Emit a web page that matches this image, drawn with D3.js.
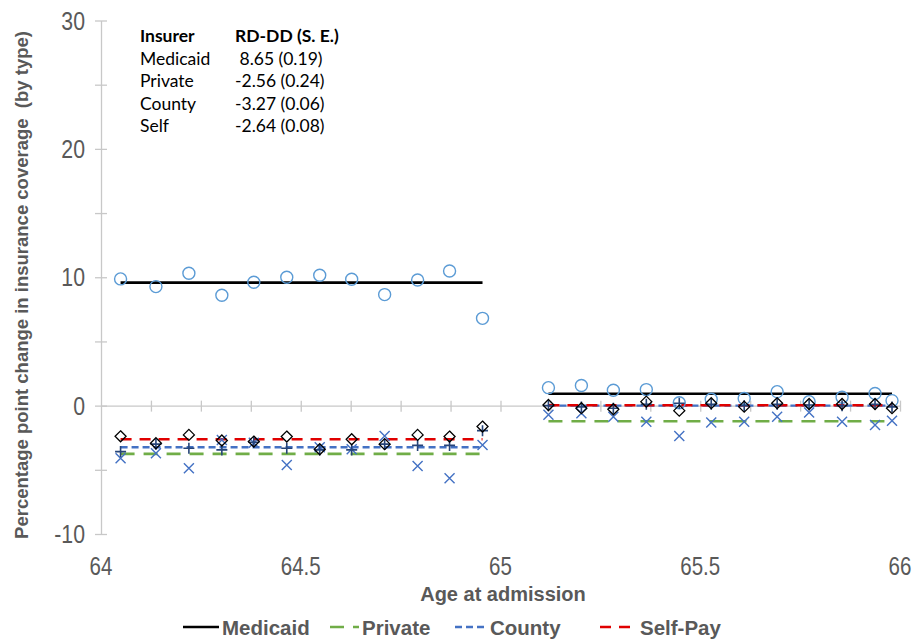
<!DOCTYPE html>
<html>
<head>
<meta charset="utf-8">
<script src="https://cdnjs.cloudflare.com/ajax/libs/d3/7.8.5/d3.min.js"></script>
<style>
  body { margin: 0; background: #fff; }
  .tick-label { font-family: "Liberation Sans", Arial, sans-serif; font-size: 25px; fill: #595959; }
  .axis-title { font-family: "Liberation Sans", Arial, sans-serif; font-weight: bold; fill: #595959; }
  .tbl { font-family: Lato, "Open Sans", sans-serif; font-size: 17.5px; fill: #000; }
</style>
</head>
<body>
<svg id="chart" width="913" height="641"></svg>
<script>
// data
var ageLeft  = [64.049, 64.1375, 64.22, 64.3025, 64.3825, 64.465, 64.5475, 64.6275, 64.71, 64.7925, 64.8725, 64.955];
var ageRight = [65.12, 65.2025, 65.2825, 65.365, 65.4475, 65.5275, 65.61, 65.6925, 65.7725, 65.855, 65.9375, 65.98];

var medicaidLeft  = [9.87, 9.27, 10.31, 8.6, 9.61, 10.0, 10.16, 9.84, 8.65, 9.79, 10.49, 6.8];
var medicaidRight = [1.4, 1.57, 1.2, 1.25, 0.22, 0.5, 0.55, 1.09, 0.31, 0.65, 0.94, 0.39];
var privateLeft   = [-4.1, -3.71, -4.88, -2.67, -2.9, -4.62, -3.24, -3.4, -2.36, -4.7, -5.65, -3.06];
var privateRight  = [-0.72, -0.6, -0.86, -1.25, -2.36, -1.32, -1.25, -0.86, -0.54, -1.25, -1.5, -1.17];
var countyLeft    = [-3.58, -3.0, -3.32, -3.45, -2.85, -3.32, -3.45, -3.45, -3.0, -3.1, -3.1, -1.95];
var countyRight   = [0.0, -0.1, -0.2, 0.1, 0.19, 0.1, 0.0, 0.1, 0.05, 0.0, 0.1, -0.1];
var selfLeft      = [-2.39, -2.93, -2.28, -2.72, -2.8, -2.41, -3.4, -2.62, -3.0, -2.28, -2.41, -1.63];
var selfRight     = [0.05, -0.2, -0.28, 0.31, -0.39, 0.19, -0.08, 0.19, 0.13, 0.13, 0.13, -0.2];

// fitted levels on each side of 65
var fitNames = ["Medicaid", "Private", "County", "Self-Pay"];
var fitLeft  = [9.58, -3.76, -3.24, -2.62];
var fitRight = [0.93, -1.22, 0.0, 0.03];

var tableHead = ["Insurer", "RD-DD (S. E.)"];
var tableNames = ["Medicaid", "Private", "County", "Self"];
var tableValues = [" 8.65 (0.19)", "-2.56 (0.24)", "-3.27 (0.06)", "-2.64 (0.08)"];

var xTicks = [64, 64.5, 65, 65.5, 66];
var yTicks = [-10, 0, 10, 20, 30];

// scales
var x = d3.scaleLinear().domain([64, 66]).range([101, 900]);
var y = d3.scaleLinear().domain([-10, 30]).range([534, 20.5]);

var svg = d3.select("#chart");
var axisColor = "#c8c8c8";

// y axis
var yAxis = svg.append("g").attr("transform", "translate(" + x(64) + ",0)")
    .call(d3.axisLeft(y).tickValues(d3.range(-10, 31, 5)).tickSize(0).tickFormat(""));
yAxis.select(".domain").attr("stroke", axisColor).attr("stroke-width", 1.3);
yAxis.selectAll(".tick line").remove();
yAxis.selectAll(".tick").append("line")
    .attr("x1", -6).attr("x2", 6)
    .attr("stroke", axisColor).attr("stroke-width", 1.3);

// x axis sits on y = 0
var xAxis = svg.append("g").attr("transform", "translate(0," + y(0) + ")")
    .call(d3.axisBottom(x).tickValues(d3.range(64, 66.01, 0.125)).tickSize(0).tickFormat(""));
xAxis.select(".domain").attr("stroke", axisColor).attr("stroke-width", 1.3);
xAxis.selectAll(".tick line").remove();
xAxis.selectAll(".tick").filter(function (d) { return d > 64; }).append("line")
    .attr("y1", -5).attr("y2", 6)
    .attr("stroke", axisColor).attr("stroke-width", 1.3);

// tick labels (narrow look)
svg.selectAll(".ylab").data(yTicks).enter().append("text")
    .attr("class", "tick-label")
    .attr("transform", function (d) { return "translate(" + (x(64) - 16) + "," + (y(d) + 9) + ") scale(0.85,1)"; })
    .attr("text-anchor", "end")
    .text(function (d) { return d; });

svg.selectAll(".xlab").data(xTicks).enter().append("text")
    .attr("class", "tick-label")
    .attr("transform", function (d) { return "translate(" + x(d) + ",575) scale(0.82,1)"; })
    .attr("text-anchor", "middle")
    .text(function (d) { return d; });

// titles
svg.append("text").attr("class", "axis-title")
    .attr("font-size", 20)
    .attr("text-anchor", "middle")
    .attr("x", 503).attr("y", 601)
    .text("Age at admission");

svg.append("text").attr("class", "axis-title")
    .attr("font-size", 18.5)
    .attr("text-anchor", "middle")
    .attr("transform", "translate(28,285) rotate(-90)")
    .attr("xml:space", "preserve")
    .text("Percentage point change in insurance coverage  (by type)");

// fitted lines
var lineStyle = [
  { color: "#000000", width: 2.6, dash: null },
  { color: "#70ad47", width: 2.6, dash: "14,9" },
  { color: "#4472c4", width: 2.4, dash: "7,4" },
  { color: "#e00000", width: 2.6, dash: "11,8" }
];

fitNames.forEach(function (name, i) {
  var sides = [
    [ageLeft[0], ageLeft[ageLeft.length - 1], fitLeft[i]],
    [ageRight[0], ageRight[ageRight.length - 1], fitRight[i]]
  ];
  sides.forEach(function (s) {
    svg.append("line")
      .attr("x1", x(s[0])).attr("x2", x(s[1]))
      .attr("y1", y(s[2])).attr("y2", y(s[2]))
      .attr("stroke", lineStyle[i].color)
      .attr("stroke-width", lineStyle[i].width)
      .attr("stroke-dasharray", lineStyle[i].dash);
  });
});

// markers
function pts(ages, vals) {
  return ages.map(function (a, i) { return { x: a, y: vals[i] }; });
}

function drawMarkers(data, shape, color, width) {
  svg.append("g").selectAll("path").data(data).enter().append("path")
    .attr("d", function (d) {
      var px = x(d.x), py = y(d.y);
      if (shape === "circle") {
        var r = 6;
        return "M" + (px - r) + "," + py + "a" + r + "," + r + " 0 1,0 " + (2 * r) + ",0a" + r + "," + r + " 0 1,0 " + (-2 * r) + ",0";
      }
      if (shape === "x") {
        var s = 5;
        return "M" + (px - s) + "," + (py - s) + "L" + (px + s) + "," + (py + s) +
               "M" + (px + s) + "," + (py - s) + "L" + (px - s) + "," + (py + s);
      }
      if (shape === "plus") {
        var p = 5.5;
        return "M" + (px - p) + "," + py + "L" + (px + p) + "," + py +
               "M" + px + "," + (py - p) + "L" + px + "," + (py + p);
      }
      var h = 5.5;
      return "M" + px + "," + (py - h) + "L" + (px + h) + "," + py + "L" + px + "," + (py + h) + "L" + (px - h) + "," + py + "Z";
    })
    .attr("fill", "none")
    .attr("stroke", color)
    .attr("stroke-width", width);
}

drawMarkers(pts(ageLeft, medicaidLeft).concat(pts(ageRight, medicaidRight)), "circle", "#5b9bd5", 1.4);
drawMarkers(pts(ageLeft, privateLeft).concat(pts(ageRight, privateRight)), "x", "#4472c4", 1.4);
drawMarkers(pts(ageLeft, countyLeft).concat(pts(ageRight, countyRight)), "plus", "#264478", 1.6);
drawMarkers(pts(ageLeft, selfLeft).concat(pts(ageRight, selfRight)), "diamond", "#000000", 1.3);

// result table
svg.append("text").attr("class", "tbl").attr("font-weight", "bold")
    .attr("x", 140).attr("y", 42).text(tableHead[0]);
svg.append("text").attr("class", "tbl").attr("font-weight", "bold")
    .attr("x", 235).attr("y", 42).text(tableHead[1]);
tableNames.forEach(function (n, i) {
  svg.append("text").attr("class", "tbl")
    .attr("x", 140).attr("y", 64.5 + i * 22.5).text(n);
  svg.append("text").attr("class", "tbl")
    .attr("x", 235).attr("y", 64.5 + i * 22.5)
    .attr("xml:space", "preserve")
    .text(tableValues[i]);
});

// legend
var legendX = [183, 330, 455, 600];
var legendText = [222, 362, 490, 640];
fitNames.forEach(function (name, i) {
  svg.append("line")
    .attr("x1", legendX[i]).attr("x2", legendText[i] - 3)
    .attr("y1", 627).attr("y2", 627)
    .attr("stroke", lineStyle[i].color)
    .attr("stroke-width", lineStyle[i].width)
    .attr("stroke-dasharray", lineStyle[i].dash);
  svg.append("text").attr("class", "axis-title")
    .attr("font-size", 20.5)
    .attr("x", legendText[i]).attr("y", 634.5)
    .text(name);
});
</script>
</body>
</html>
